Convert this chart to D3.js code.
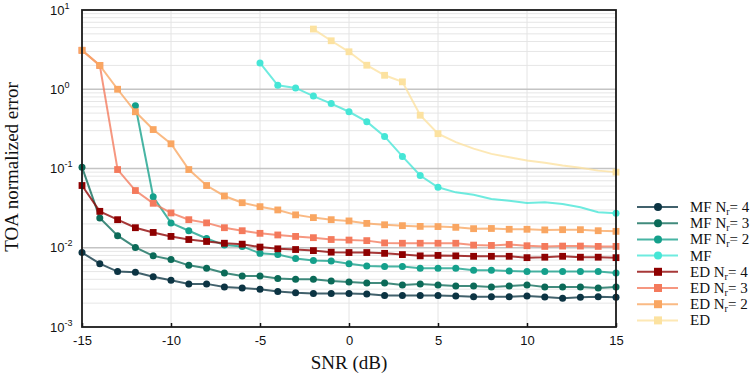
<!DOCTYPE html>
<html lang="en">
<head>
<meta charset="UTF-8">
<title>TOA normalized error vs SNR</title>
<script src="https://d3js.org/d3.v7.min.js"></script>
<style>
  body { margin: 0; background: #fff; }
  svg text { font-family: "Liberation Sans", Arial, sans-serif; fill: #111; }
  svg text.serif { font-family: "Liberation Serif", "Times New Roman", serif; }
</style>
</head>
<body>
<svg id="chart" width="754" height="377"></svg>
<script>
// SNR values (dB)
const snr = [-15, -14, -13, -12, -11, -10, -9, -8, -7, -6, -5, -4, -3, -2, -1, 0,
             1, 2, 3, 4, 5, 6, 7, 8, 9, 10, 11, 12, 13, 14, 15];

// series (null = not plotted)
const mfNr4 = [0.0087, 0.0063, 0.005, 0.0049, 0.0043, 0.0039, 0.0035, 0.0035, 0.0032, 0.0031,
               0.003, 0.0028, 0.0027, 0.00265, 0.00265, 0.00265,
               0.0026, 0.0025, 0.0025, 0.0025, 0.0025, 0.00247, 0.0024, 0.0024, 0.0024, 0.00247,
               0.00239, 0.00231, 0.00238, 0.0024, 0.00237];
const mfNr3 = [0.104, 0.0238, 0.0142, 0.0101, 0.0079, 0.0071, 0.006, 0.0055, 0.0048, 0.0044,
               0.0044, 0.0041, 0.004, 0.004, 0.0038, 0.0037,
               0.0036, 0.0036, 0.0034, 0.0035, 0.0034, 0.0033, 0.0033, 0.0032, 0.0033, 0.0034,
               0.0032, 0.0032, 0.0032, 0.0031, 0.0032];
const mfNr2 = [null, null, null, 0.62, 0.044, 0.0206, 0.0164, 0.0131, 0.0108, 0.0104,
               0.0085, 0.0082, 0.0073, 0.0069, 0.0068, 0.0063,
               0.0059, 0.0058, 0.0058, 0.0055, 0.0055, 0.0055, 0.0052, 0.0052, 0.0051, 0.005,
               0.005, 0.005, 0.005, 0.005, 0.0048];
const mf    = [null, null, null, null, null, null, null, null, null, null,
               2.15, 1.12, 1.04, 0.82, 0.66, 0.52,
               0.39, 0.254, 0.142, 0.0815, 0.058, 0.05, 0.0465, 0.0413, 0.0393, 0.0368,
               0.0374, 0.0357, 0.0324, 0.028, 0.0272];
const edNr4 = [0.061, 0.0288, 0.0226, 0.0179, 0.0156, 0.0139, 0.0127, 0.012, 0.0114, 0.0111,
               0.0102, 0.0097, 0.0095, 0.0092, 0.0088, 0.0087,
               0.0087, 0.0085, 0.0082, 0.0079, 0.008, 0.0079, 0.0078, 0.0078, 0.0078, 0.0075,
               0.0076, 0.0078, 0.0076, 0.0076, 0.0075];
const edNr3 = [3.1, 2.0, 0.097, 0.0527, 0.0364, 0.0275, 0.0226, 0.0206, 0.0179, 0.0164,
               0.0152, 0.0145, 0.0139, 0.0134, 0.0127, 0.0125,
               0.0123, 0.0115, 0.0114, 0.0114, 0.0114, 0.0114, 0.0108, 0.0107, 0.011, 0.0106,
               0.0104, 0.0105, 0.0105, 0.0104, 0.0104];
const edNr2 = [3.1, 2.0, 1.0, 0.52, 0.31, 0.205, 0.097, 0.061, 0.045, 0.037,
               0.033, 0.030, 0.026, 0.024, 0.0226, 0.0218,
               0.0203, 0.0195, 0.019, 0.0186, 0.0185, 0.0181, 0.0174, 0.0175, 0.0171, 0.0171,
               0.0168, 0.0169, 0.0169, 0.0164, 0.0161];
const ed    = [null, null, null, null, null, null, null, null, null, null,
               null, null, null, 5.75, 4.09, 2.97,
               2.01, 1.5, 1.24, 0.47, 0.275, 0.215, 0.178, 0.153, 0.139, 0.126,
               0.118, 0.109, 0.102, 0.094, 0.09];

const xTicks = [-15, -10, -5, 0, 5, 10, 15];
const yTicks = [10, 1, 0.1, 0.01, 0.001];
const yTickExp = ["1", "0", "-1", "-2", "-3"];

// legend: label prefix, subscript suffix, data, colour, marker
const series = [
  {pre: "MF N", nr: "= 4", data: mfNr4, color: "#0c3443", mark: "circle"},
  {pre: "MF N", nr: "= 3", data: mfNr3, color: "#0b6a58", mark: "circle"},
  {pre: "MF N", nr: "= 2", data: mfNr2, color: "#14a08b", mark: "circle"},
  {pre: "MF",   nr: null,  data: mf,    color: "#45e6d6", mark: "circle", sparse: true},
  {pre: "ED N", nr: "= 4", data: edNr4, color: "#8e0000", mark: "square"},
  {pre: "ED N", nr: "= 3", data: edNr3, color: "#f47a5c", mark: "square"},
  {pre: "ED N", nr: "= 2", data: edNr2, color: "#f9a662", mark: "square"},
  {pre: "ED",   nr: null,  data: ed,    color: "#fce2a0", mark: "square", sparse: true}
];

const margin = {top: 10, left: 82};
const width = 534, height = 317;

const svg = d3.select("#chart");
const g = svg.append("g").attr("transform", `translate(${margin.left},${margin.top})`);

const x = d3.scaleLinear().domain([-15, 15]).range([0, width]);
const y = d3.scaleLog().domain([1e-3, 10]).range([height, 0]);

// minor grid
g.append("g").selectAll("line")
  .data(y.ticks().filter(v => !yTicks.includes(v)))
  .join("line")
  .attr("x1", 0).attr("x2", width)
  .attr("y1", d => y(d)).attr("y2", d => y(d))
  .attr("stroke", "#e6e6e6").attr("stroke-width", 1);

// vertical grid
g.append("g").selectAll("line")
  .data(xTicks.slice(1, -1))
  .join("line")
  .attr("x1", d => x(d)).attr("x2", d => x(d))
  .attr("y1", 0).attr("y2", height)
  .attr("stroke", "#e4e4e4").attr("stroke-width", 1);

// major grid
g.append("g").selectAll("line")
  .data(yTicks.slice(1, -1))
  .join("line")
  .attr("x1", 0).attr("x2", width)
  .attr("y1", d => y(d)).attr("y2", d => y(d))
  .attr("stroke", "#c4c4c4").attr("stroke-width", 1.6);

// x axis (inward ticks)
const xAxis = g.append("g")
  .attr("transform", `translate(0,${height})`)
  .call(d3.axisBottom(x).tickValues(xTicks).tickSize(-4).tickPadding(9).tickFormat(d3.format("d")));
xAxis.select(".domain").remove();
xAxis.selectAll(".tick line").attr("stroke", "#111").attr("stroke-width", 1.5);
xAxis.selectAll("text").attr("font-size", 13).attr("fill", "#111")
  .attr("font-family", "'Liberation Sans', Arial, sans-serif")
  .text(d => d < 0 ? "-" + Math.abs(d) : d);

// y tick labels 10^n
const yl = g.append("g").selectAll("text")
  .data(yTicks)
  .join("text")
  .attr("x", 50 - margin.left)
  .attr("y", d => y(d) + 4.5)
  .attr("font-size", 13);
yl.append("tspan").text("10");
yl.append("tspan").attr("dy", -6).attr("font-size", 9).text((d, i) => yTickExp[i]);

// series
const line = d3.line()
  .defined(d => d.v != null)
  .x(d => x(d.s))
  .y(d => y(d.v));

const showMarker = (sr, s) => !sr.sparse || s <= 5 || s === 15;

series.forEach(sr => {
  const pts = snr.map((s, i) => ({s: s, v: sr.data[i]}));
  g.append("path")
    .datum(pts)
    .attr("fill", "none")
    .attr("stroke", sr.color)
    .attr("stroke-opacity", 0.78)
    .attr("stroke-width", 2)
    .attr("d", line);
  const mk = pts.filter(p => p.v != null && showMarker(sr, p.s));
  if (sr.mark === "circle") {
    g.append("g").selectAll("circle").data(mk).join("circle")
      .attr("cx", p => x(p.s)).attr("cy", p => y(p.v))
      .attr("r", 3.5).attr("fill", sr.color);
  } else {
    g.append("g").selectAll("rect").data(mk).join("rect")
      .attr("x", p => x(p.s) - 3.4).attr("y", p => y(p.v) - 3.4)
      .attr("width", 6.8).attr("height", 6.8).attr("fill", sr.color);
  }
});

// frame
g.append("rect")
  .attr("x", 0).attr("y", 0).attr("width", width).attr("height", height)
  .attr("fill", "none").attr("stroke", "#1a1a1a").attr("stroke-width", 1.8);

// axis titles
svg.append("text").attr("class", "serif")
  .attr("transform", "translate(18,167) rotate(-90)")
  .attr("text-anchor", "middle").attr("font-size", 19)
  .text("TOA normalized error");

svg.append("text").attr("class", "serif")
  .attr("x", margin.left + x(0)).attr("y", 369)
  .attr("text-anchor", "middle").attr("font-size", 19)
  .text("SNR (dB)");

// legend
const lg = svg.append("g").attr("transform", "translate(637,207)");
series.forEach((sr, i) => {
  const row = lg.append("g").attr("transform", `translate(0,${i * 16.2})`);
  row.append("line").attr("x1", 0).attr("x2", 41).attr("y1", 0).attr("y2", 0)
    .attr("stroke", sr.color).attr("stroke-opacity", 0.78).attr("stroke-width", 2);
  if (sr.mark === "circle") {
    row.append("circle").attr("cx", 21).attr("cy", 0).attr("r", 4).attr("fill", sr.color);
  } else {
    row.append("rect").attr("x", 17).attr("y", -4).attr("width", 8).attr("height", 8).attr("fill", sr.color);
  }
  const t = row.append("text").attr("class", "serif")
    .attr("x", 53).attr("y", 5).attr("font-size", 15);
  t.append("tspan").text(sr.pre);
  if (sr.nr) {
    t.append("tspan").attr("dy", 3).attr("font-size", 10).text("r");
    t.append("tspan").attr("dy", -3).text(sr.nr);
  }
});
</script>
</body>
</html>
